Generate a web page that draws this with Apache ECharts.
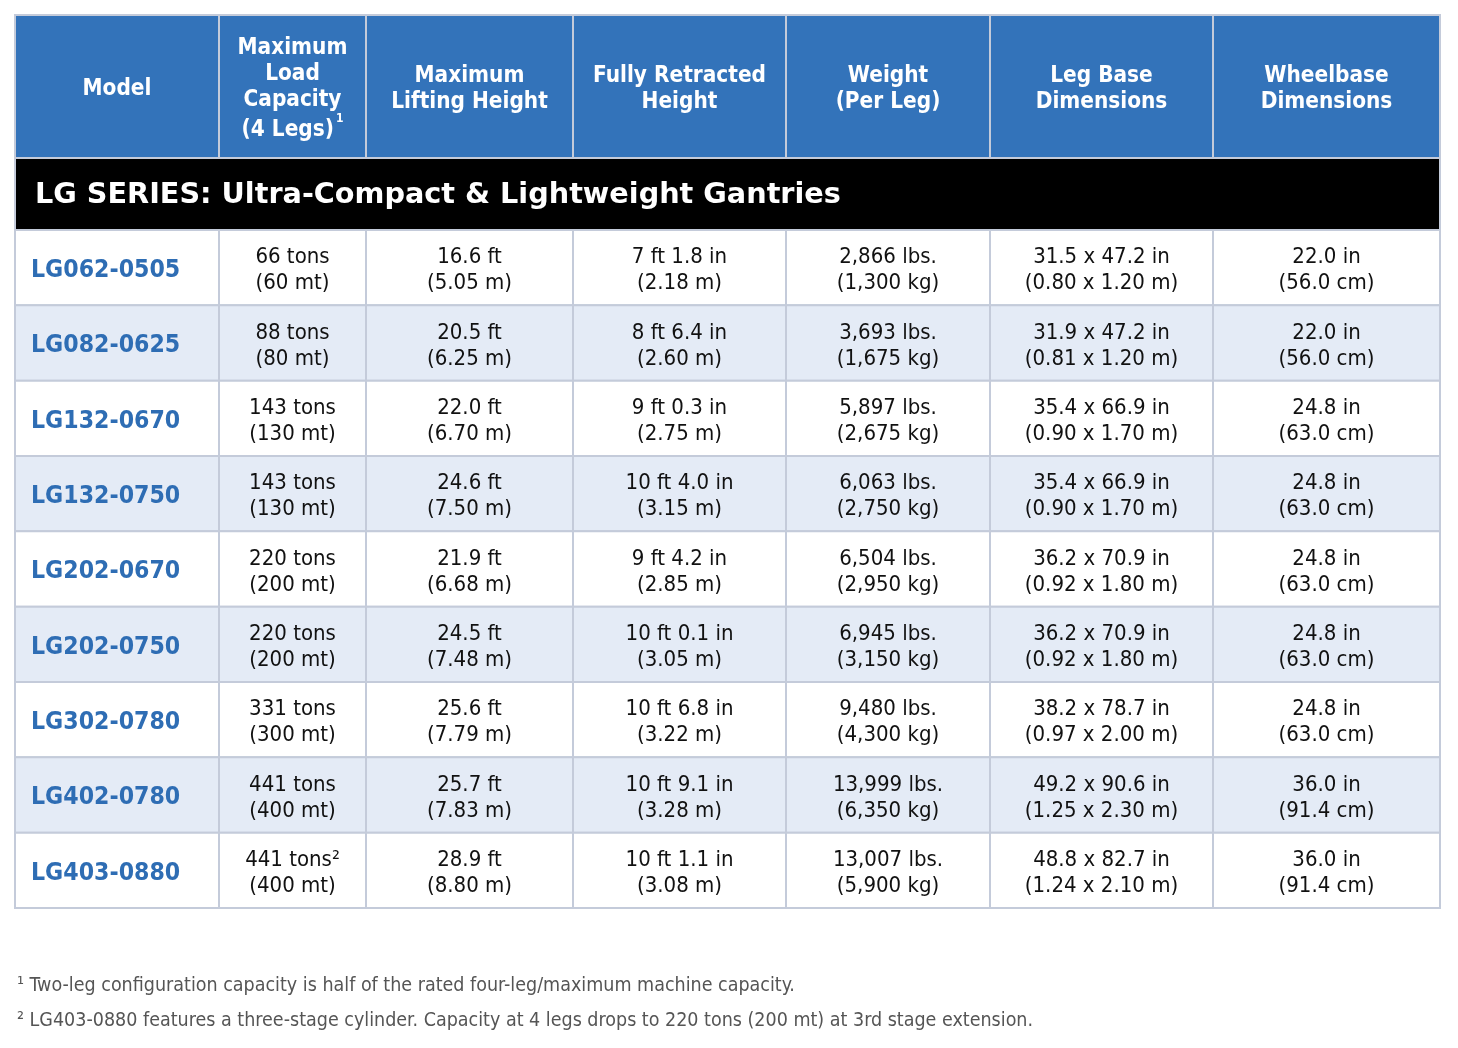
<!DOCTYPE html>
<html><head><meta charset="utf-8">
<script src="https://cdn.jsdelivr.net/npm/echarts@6/dist/echarts.min.js"></script>
<style>html,body{margin:0;padding:0;background:#fff}#c{width:1458px;height:1048px}</style>
</head><body><div id="c"></div>
<script>
// ---- data ----
const headers = ['Model', 'Maximum\nLoad\nCapacity\n(4 Legs)¹', 'Maximum\nLifting Height', 'Fully Retracted\nHeight', 'Weight\n(Per Leg)', 'Leg Base\nDimensions', 'Wheelbase\nDimensions'];
const seriesTitle = 'LG SERIES: Ultra-Compact & Lightweight Gantries';
const models = ['LG062-0505', 'LG082-0625', 'LG132-0670', 'LG132-0750', 'LG202-0670', 'LG202-0750', 'LG302-0780', 'LG402-0780', 'LG403-0880'];
const capacity = ['66 tons\n(60 mt)', '88 tons\n(80 mt)', '143 tons\n(130 mt)', '143 tons\n(130 mt)', '220 tons\n(200 mt)', '220 tons\n(200 mt)', '331 tons\n(300 mt)', '441 tons\n(400 mt)', '441 tons²\n(400 mt)'];
const liftHeight = ['16.6 ft\n(5.05 m)', '20.5 ft\n(6.25 m)', '22.0 ft\n(6.70 m)', '24.6 ft\n(7.50 m)', '21.9 ft\n(6.68 m)', '24.5 ft\n(7.48 m)', '25.6 ft\n(7.79 m)', '25.7 ft\n(7.83 m)', '28.9 ft\n(8.80 m)'];
const retracted = ['7 ft 1.8 in\n(2.18 m)', '8 ft 6.4 in\n(2.60 m)', '9 ft 0.3 in\n(2.75 m)', '10 ft 4.0 in\n(3.15 m)', '9 ft 4.2 in\n(2.85 m)', '10 ft 0.1 in\n(3.05 m)', '10 ft 6.8 in\n(3.22 m)', '10 ft 9.1 in\n(3.28 m)', '10 ft 1.1 in\n(3.08 m)'];
const weight = ['2,866 lbs.\n(1,300 kg)', '3,693 lbs.\n(1,675 kg)', '5,897 lbs.\n(2,675 kg)', '6,063 lbs.\n(2,750 kg)', '6,504 lbs.\n(2,950 kg)', '6,945 lbs.\n(3,150 kg)', '9,480 lbs.\n(4,300 kg)', '13,999 lbs.\n(6,350 kg)', '13,007 lbs.\n(5,900 kg)'];
const legBase = ['31.5 x 47.2 in\n(0.80 x 1.20 m)', '31.9 x 47.2 in\n(0.81 x 1.20 m)', '35.4 x 66.9 in\n(0.90 x 1.70 m)', '35.4 x 66.9 in\n(0.90 x 1.70 m)', '36.2 x 70.9 in\n(0.92 x 1.80 m)', '36.2 x 70.9 in\n(0.92 x 1.80 m)', '38.2 x 78.7 in\n(0.97 x 2.00 m)', '49.2 x 90.6 in\n(1.25 x 2.30 m)', '48.8 x 82.7 in\n(1.24 x 2.10 m)'];
const wheelbase = ['22.0 in\n(56.0 cm)', '22.0 in\n(56.0 cm)', '24.8 in\n(63.0 cm)', '24.8 in\n(63.0 cm)', '24.8 in\n(63.0 cm)', '24.8 in\n(63.0 cm)', '24.8 in\n(63.0 cm)', '36.0 in\n(91.4 cm)', '36.0 in\n(91.4 cm)'];
const footnotes = ['¹ Two-leg configuration capacity is half of the rated four-leg/maximum machine capacity.', '² LG403-0880 features a three-stage cylinder. Capacity at 4 legs drops to 220 tons (200 mt) at 3rd stage extension.'];

// ---- layout ----
const FONT = "'DejaVu Sans Condensed', 'DejaVu Sans', sans-serif";
const FONT_WIDE = "'DejaVu Sans', sans-serif";
const colEdges = [0, 204, 351, 558, 771, 975, 1198, 1425];
const headerH = 143, bandH = 72, rowH = 678 / 9;
const rowEdges = [0, headerH, headerH + bandH];
for (let i = 1; i <= models.length; i++) rowEdges.push(headerH + bandH + rowH * i);
const tableH = rowEdges[rowEdges.length - 1];

const columns = [models, capacity, liftHeight, retracted, weight, legBase, wheelbase];
const cells = [];
headers.forEach((h, c) => cells.push({ value: [c, 0], kind: 'head', text: h }));
cells.push({ value: [0, 1], kind: 'band', text: seriesTitle });
models.forEach((m, i) => {
  columns.forEach((col, c) => cells.push({ value: [c, i + 2], kind: c === 0 ? 'model' : 'body', text: col[i] }));
});

function headRich(t) {
  return t.split('\n').map(line => line.indexOf('¹') >= 0
    ? '{tall|' + line.replace('¹', '') + '}{sup|1}' : line).join('\n');
}

function renderItem(params, api) {
  const item = cells[params.dataIndex];
  const c = api.value(0), r = api.value(1);
  const c1 = item.kind === 'band' ? colEdges.length - 1 : c + 1;
  const p0 = api.coord([colEdges[c], rowEdges[r]]);
  const p1 = api.coord([colEdges[c1], rowEdges[r + 1]]);
  const x = p0[0], y = p0[1], w = p1[0] - p0[0], h = p1[1] - p0[1];
  let fill = '#ffffff';
  if (item.kind === 'head') fill = '#3373BA';
  else if (item.kind === 'band') fill = '#000000';
  else if ((r - 2) % 2 === 1) fill = '#E4EBF6';
  const rect = { type: 'rect', shape: { x, y, width: w, height: h }, style: { fill, stroke: '#C4CBDA', lineWidth: 2 } };
  let text;
  if (item.kind === 'head') {
    const multi = item.text.indexOf('¹') >= 0;
    text = { type: 'text', x: x + w / 2, y: y + h / 2 + (multi ? 4.5 : 3), style: {
      text: headRich(item.text), fill: '#ffffff', font: 'bold 22.4px ' + FONT, align: 'center', verticalAlign: 'middle', lineHeight: 26,
      rich: {
        tall: { fill: '#ffffff', fontSize: 22.4, fontWeight: 'bold', fontFamily: FONT, lineHeight: 34 },
        sup: { fill: '#ffffff', fontSize: 12, fontWeight: 'bold', fontFamily: FONT, verticalAlign: 'top', lineHeight: 16, padding: [0, 0, 0, 2] }
      }
    } };
  } else if (item.kind === 'band') {
    text = { type: 'text', x: x + 20, y: y + h / 2 + 2, style: { text: item.text, fill: '#ffffff', font: 'bold 28.7px ' + FONT_WIDE, align: 'left', verticalAlign: 'middle' } };
  } else if (item.kind === 'model') {
    text = { type: 'text', x: x + 16, y: y + h / 2 + 3, style: { text: item.text, fill: '#2E6DB4', font: 'bold 24.6px ' + FONT, align: 'left', verticalAlign: 'middle' } };
  } else {
    text = { type: 'text', x: x + w / 2, y: y + h / 2 + 3, style: { text: item.text, fill: '#111111', font: '22px ' + FONT, align: 'center', verticalAlign: 'middle', lineHeight: 26 } };
  }
  return { type: 'group', children: [rect, text] };
}

const chart = echarts.init(document.getElementById('c'), null, { renderer: 'canvas' });
chart.setOption({
  animation: false,
  backgroundColor: '#ffffff',
  grid: { left: 15, top: 15, width: colEdges[colEdges.length - 1], height: tableH, containLabel: false },
  xAxis: { type: 'value', min: 0, max: colEdges[colEdges.length - 1], show: false },
  yAxis: { type: 'value', min: 0, max: tableH, inverse: true, show: false },
  tooltip: { show: false },
  series: [{
    type: 'custom', renderItem, data: cells, clip: false, silent: true,
    encode: { x: 0, y: 1 }
  }],
  graphic: footnotes.map((t, i) => ({
    type: 'text', left: 17, top: 976 + i * 35,
    style: { text: t, fill: '#555555', font: '19.5px ' + FONT }
  }))
});
</script></body></html>
